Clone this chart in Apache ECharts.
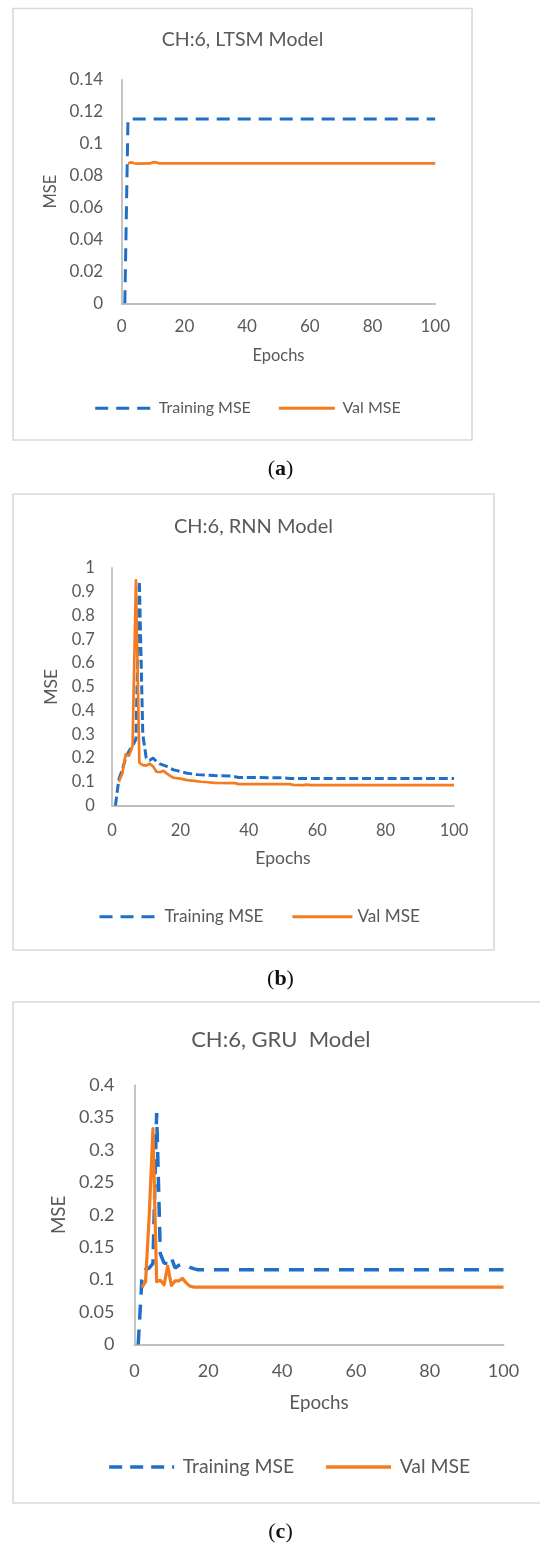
<!DOCTYPE html>
<html>
<head>
<meta charset="utf-8">
<script src="https://cdn.jsdelivr.net/npm/echarts@6/dist/echarts.min.js"></script>
<style>
  html, body { margin: 0; padding: 0; background: #ffffff; }
  #chart { width: 540px; height: 1546px; }
</style>
</head>
<body>
<div id="chart"></div>
<script>
// ---- Training / validation MSE per epoch, channel 6 ----

// LTSM model
const lstmTrainEpochs = [1, 2, 100];
const lstmTrainMse    = [0, 0.1155, 0.1155];
const lstmValEpochs   = [2, 3, 4, 5, 9, 10, 11, 12, 100];
const lstmValMse      = [0.0877, 0.0884, 0.0878, 0.0876, 0.0877, 0.0885, 0.0884, 0.0877, 0.0877];

// RNN model
const rnnTrainEpochs = [1, 2, 3, 4, 5, 6, 7, 8, 9, 10, 11, 12, 13, 14, 16, 18, 20, 22, 25, 30, 35, 37, 50, 52, 100];
const rnnTrainMse    = [0, 0.11, 0.15, 0.2, 0.23, 0.25, 0.28, 0.945, 0.3, 0.2, 0.19, 0.2, 0.185, 0.175, 0.165, 0.15, 0.143, 0.136, 0.13, 0.126, 0.124, 0.118, 0.117, 0.114, 0.114];
const rnnValEpochs   = [2, 3, 4, 5, 6, 7, 8, 9, 10, 11, 12, 13, 14, 15, 16, 17, 18, 20, 22, 24, 26, 28, 30, 36, 37, 52, 53, 56, 57, 58, 100];
const rnnValMse      = [0.1, 0.135, 0.215, 0.21, 0.25, 0.948, 0.18, 0.17, 0.168, 0.176, 0.165, 0.142, 0.14, 0.146, 0.135, 0.125, 0.117, 0.113, 0.107, 0.104, 0.1, 0.098, 0.095, 0.094, 0.09, 0.09, 0.087, 0.086, 0.088, 0.086, 0.086];

// GRU model
const gruTrainEpochs = [1, 2, 3, 4, 5, 6, 7, 8, 9, 10, 11, 12, 13, 14, 15, 16, 17, 100];
const gruTrainMse    = [0, 0.1, 0.116, 0.118, 0.125, 0.357, 0.14, 0.126, 0.124, 0.134, 0.118, 0.122, 0.124, 0.122, 0.119, 0.117, 0.1155, 0.1155];
const gruValEpochs   = [2, 3, 4, 5, 6, 7, 8, 9, 10, 11, 12, 13, 14, 15, 16, 100];
const gruValMse      = [0.088, 0.097, 0.2, 0.333, 0.097, 0.099, 0.092, 0.121, 0.091, 0.098, 0.098, 0.102, 0.095, 0.09, 0.0886, 0.0886];

// Axis ticks
const epochTicks = { min: 0, max: 100, interval: 20 };
const lstmTicks  = { min: 0, max: 0.14, interval: 0.02 };
const rnnTicks   = { min: 0, max: 1, interval: 0.1 };
const gruTicks   = { min: 0, max: 0.4, interval: 0.05 };

const titles = ['CH:6, LTSM Model', 'CH:6, RNN Model', 'CH:6, GRU  Model'];
const seriesNames = ['Training MSE', 'Val MSE'];
const panelTags = ['a', 'b', 'c'];

// ---- Styling ----
const FONT = 'Lato';
const TEXT = '#595959';
const AXIS = '#bfbfbf';
const BLUE = '#1f6fc6';
const ORANGE = '#f47c20';

const pair = (xs, ys) => xs.map((x, i) => [x, ys[i]]);

const panels = [
  {
    frame: { x: 13, y: 8.5, w: 459, h: 431.5 },
    grid: { left: 121.7, top: 80, width: 313.5, height: 223.3 },
    titleX: 242.5, titleY: 40, titleSize: 19.5,
    tickSize: 17, xMargin: 15, yMargin: 18.5,
    nameSize: 16.5, xNameGap: 43.5, yNameGap: 61.5,
    legend: { left: 93.7, y: 408.3, size: 16, iconW: 56, gap: 26.5, textPad: 2.6 },
    dash: [13, 8], lineW: 3,
    tagY: 469,
    yTicks: lstmTicks,
    train: pair(lstmTrainEpochs, lstmTrainMse),
    val: pair(lstmValEpochs, lstmValMse)
  },
  {
    frame: { x: 13, y: 494, w: 481, h: 456 },
    grid: { left: 112, top: 568, width: 342, height: 237.5 },
    titleX: 253.5, titleY: 527, titleSize: 20,
    tickSize: 16.5, xMargin: 16.5, yMargin: 17.3,
    nameSize: 17.5, xNameGap: 44, yNameGap: 50,
    legend: { left: 98, y: 916.7, size: 17.2, iconW: 60, gap: 27.5, textPad: 0 },
    dash: [9, 3.8], lineW: 3,
    tagY: 979.5,
    yTicks: rnnTicks,
    train: pair(rnnTrainEpochs, rnnTrainMse),
    val: pair(rnnValEpochs, rnnValMse)
  },
  {
    frame: { x: 13, y: 1002, w: 535, h: 501 },
    grid: { left: 134.5, top: 1085.2, width: 369, height: 259.3 },
    titleX: 280.8, titleY: 1040, titleSize: 22,
    tickSize: 18, xMargin: 18, yMargin: 20,
    nameSize: 18.8, xNameGap: 49, yNameGap: 66,
    legend: { left: 107.4, y: 1467, size: 19.4, iconW: 65, gap: 30, textPad: 3.6 },
    dash: [15, 10], lineW: 3.5,
    tagY: 1532,
    yTicks: gruTicks,
    train: pair(gruTrainEpochs, gruTrainMse),
    val: pair(gruValEpochs, gruValMse)
  }
];

const option = {
  backgroundColor: '#ffffff',
  animation: false,
  title: [],
  legend: [],
  grid: [],
  xAxis: [],
  yAxis: [],
  series: [],
  graphic: []
};

panels.forEach((p, i) => {
  // chart area border
  option.graphic.push({
    type: 'rect', silent: true, z: -10,
    shape: { x: p.frame.x, y: p.frame.y, width: p.frame.w, height: p.frame.h },
    style: { fill: 'none', stroke: '#d9d9d9', lineWidth: 1.6 }
  });
  // figure tag under each chart
  option.graphic.push({
    type: 'text', silent: true,
    x: 280.5, y: p.tagY,
    style: {
      text: '{p|(}{b|' + panelTags[i] + '}{p|)}',
      align: 'center', verticalAlign: 'middle',
      rich: {
        p: { fontFamily: 'Liberation Serif', fontSize: 22, fill: '#111' },
        b: { fontFamily: 'Liberation Serif', fontSize: 22, fontWeight: 'bold', fill: '#111' }
      }
    }
  });

  option.title.push({
    text: titles[i],
    left: p.titleX, top: p.titleY, padding: 0,
    textAlign: 'center', textVerticalAlign: 'middle',
    textStyle: { fontFamily: FONT, fontSize: p.titleSize, fontWeight: 'normal', color: TEXT }
  });

  option.legend.push({
    data: seriesNames,
    left: p.legend.left, top: p.legend.y - 11, padding: 0,
    itemWidth: p.legend.iconW, itemHeight: 14, itemGap: p.legend.gap,
    selectedMode: false,
    textStyle: { fontFamily: FONT, fontSize: p.legend.size, color: TEXT, lineHeight: 22, padding: [0, 0, 0, p.legend.textPad] },
    itemStyle: { color: 'rgba(0,0,0,0)', borderWidth: 0 },
    lineStyle: { width: p.lineW }
  });

  option.grid.push(Object.assign({ containLabel: false }, p.grid));

  option.xAxis.push({
    gridIndex: i, type: 'value',
    min: epochTicks.min, max: epochTicks.max, interval: epochTicks.interval,
    axisLine: { show: true, onZero: false, lineStyle: { color: AXIS, width: 1.8 } },
    axisTick: { show: false },
    splitLine: { show: false },
    axisLabel: { fontFamily: FONT, fontSize: p.tickSize, color: TEXT, margin: p.xMargin },
    name: 'Epochs', nameLocation: 'middle', nameGap: p.xNameGap,
    nameTextStyle: { fontFamily: FONT, fontSize: p.nameSize, color: TEXT }
  });

  option.yAxis.push({
    gridIndex: i, type: 'value',
    min: p.yTicks.min, max: p.yTicks.max, interval: p.yTicks.interval,
    axisLine: { show: true, onZero: false, lineStyle: { color: AXIS, width: 1.8 } },
    axisTick: { show: false },
    splitLine: { show: false },
    axisLabel: { fontFamily: FONT, fontSize: p.tickSize, color: TEXT, margin: p.yMargin },
    name: 'MSE', nameLocation: 'middle', nameGap: p.yNameGap,
    nameTextStyle: { fontFamily: FONT, fontSize: p.nameSize, color: TEXT }
  });

  option.series.push({
    name: seriesNames[0], type: 'line', xAxisIndex: i, yAxisIndex: i,
    data: p.train, symbol: 'none', showSymbol: false, z: 2,
    color: BLUE,
    lineStyle: { color: BLUE, width: p.lineW, type: p.dash, cap: 'butt' }
  });
  option.series.push({
    name: seriesNames[1], type: 'line', xAxisIndex: i, yAxisIndex: i,
    data: p.val, symbol: 'none', showSymbol: false, z: 3,
    color: ORANGE,
    lineStyle: { color: ORANGE, width: p.lineW - 0.3, join: 'round' }
  });
});

const chart = echarts.init(document.getElementById('chart'), null, { renderer: 'canvas' });
chart.setOption(option);
</script>
</body>
</html>
